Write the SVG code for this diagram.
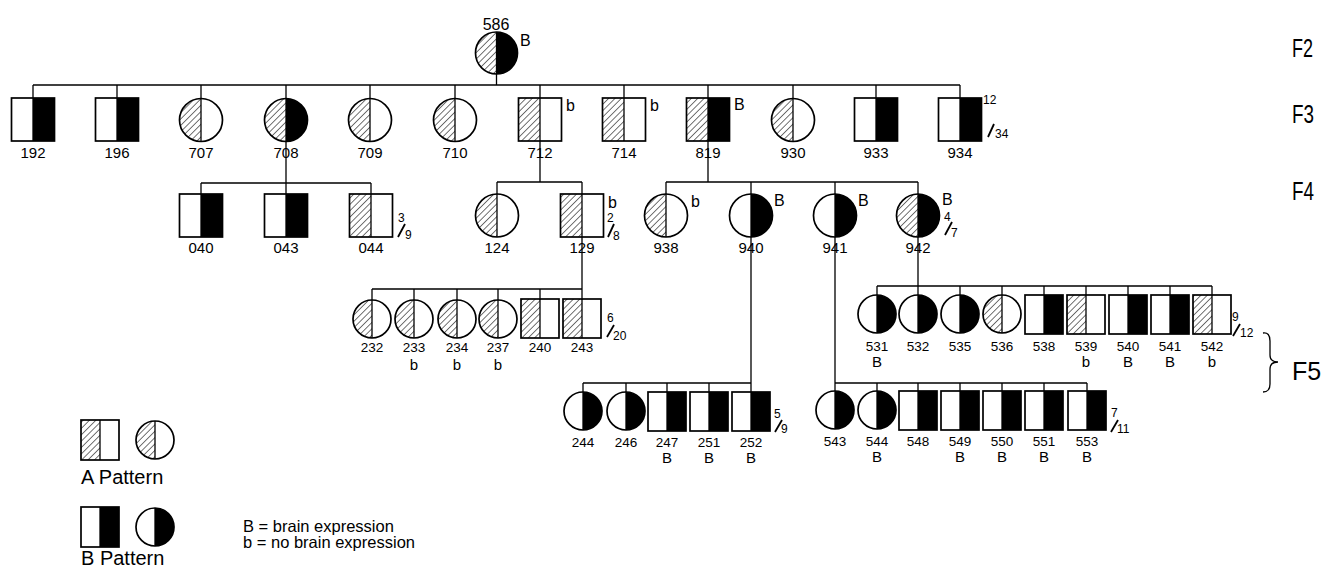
<svg xmlns="http://www.w3.org/2000/svg" width="1326" height="568" viewBox="0 0 1326 568">
<defs>
<pattern id="hatch" patternUnits="userSpaceOnUse" width="4.5" height="4.5" patternTransform="rotate(45)"><line x1="0" y1="0" x2="0" y2="4.5" stroke="#000" stroke-width="1.1"/></pattern>
</defs>
<style>
.o{fill:none;stroke:#000;stroke-width:1.7}
.c{fill:none;stroke:#000;stroke-width:1.3}
.sl{fill:none;stroke:#000;stroke-width:1.8}
.h{fill:url(#hatch)}
.k{fill:#000}
text{font-family:"Liberation Sans",Arial,sans-serif;fill:#000}
.l{font-size:15px;text-anchor:middle}
.s{font-size:13.5px;text-anchor:middle}
.q{font-size:15px;text-anchor:middle}
.m{font-size:16px}
.f{font-size:12px}
.g{font-size:25px}
.lg{font-size:20px}
.lt{font-size:16.5px}
</style>
<rect width="1326" height="568" fill="#fff"/>

<g id="connectors" class="c">
<line x1="496.5" y1="74" x2="496.5" y2="85"/>
<line x1="33" y1="85" x2="960" y2="85"/>
<path d="M33,85V98M117,85V98M201,85V98.5M286,85V98.5M370,85V98.5M455,85V98.5M540,85V98M624,85V98M708,85V98M793,85V98.5M876,85V98M960,85V98"/>
<path d="M286,141.5V183M201,183H371M201,183V194M286,183V194M371,183V194"/>
<path d="M540,141V182M497,182H582M497,182V194M582,182V194"/>
<path d="M708,141V182M666,182H918M666,182V194M751,182V194M835,182V194M918,182V194"/>
<path d="M582,237V289M372,289H582M372,289V300M414,289V300M457,289V300M498,289V300M540,289V300M582,289V300"/>
<path d="M918,237V286M877,286H1212M877,286V295M918,286V295M960,286V295M1002,286V295M1044,286V295M1086,286V295M1128,286V295M1170,286V295M1212,286V295"/>
<path d="M751,237V383M583,383H751M583,383V392M626,383V392M667,383V392M709,383V392M751,383V392"/>
<path d="M835,237V383M835,383H1087M835,383V391M877,383V391M918,383V391M960,383V391M1002,383V391M1044,383V391M1087,383V391"/>
</g>

<!-- F2 -->
<g id="n586">
<path class="h" d="M496.5,32A21,21 0 0 0 496.5,74Z"/><path class="k" d="M496.5,32A21,21 0 0 1 496.5,74Z"/>
<circle class="o" cx="496.5" cy="53" r="21"/><line class="c" x1="496.5" y1="32" x2="496.5" y2="74"/>
<text class="m" x="496" y="30" text-anchor="middle">586</text><text class="m" x="520" y="46">B</text>
</g>

<!-- F3 -->
<g id="n192"><rect class="k" x="33" y="98" width="21.5" height="43"/><rect class="o" x="11.5" y="98" width="43" height="43"/><line class="c" x1="33" y1="98" x2="33" y2="141"/><text class="l" x="33" y="158">192</text></g>
<g id="n196"><rect class="k" x="117" y="98" width="21.5" height="43"/><rect class="o" x="95.5" y="98" width="43" height="43"/><line class="c" x1="117" y1="98" x2="117" y2="141"/><text class="l" x="117" y="158">196</text></g>
<g id="n707"><path class="h" d="M201,98.5A21.5,21.5 0 0 0 201,141.5Z"/><circle class="o" cx="201" cy="120" r="21.5"/><line class="c" x1="201" y1="98.5" x2="201" y2="141.5"/><text class="l" x="201" y="158">707</text></g>
<g id="n708"><path class="h" d="M286,98.5A21.5,21.5 0 0 0 286,141.5Z"/><path class="k" d="M286,98.5A21.5,21.5 0 0 1 286,141.5Z"/><circle class="o" cx="286" cy="120" r="21.5"/><line class="c" x1="286" y1="98.5" x2="286" y2="141.5"/><text class="l" x="286" y="158">708</text></g>
<g id="n709"><path class="h" d="M370,98.5A21.5,21.5 0 0 0 370,141.5Z"/><circle class="o" cx="370" cy="120" r="21.5"/><line class="c" x1="370" y1="98.5" x2="370" y2="141.5"/><text class="l" x="370" y="158">709</text></g>
<g id="n710"><path class="h" d="M455,98.5A21.5,21.5 0 0 0 455,141.5Z"/><circle class="o" cx="455" cy="120" r="21.5"/><line class="c" x1="455" y1="98.5" x2="455" y2="141.5"/><text class="l" x="455" y="158">710</text></g>
<g id="n712"><rect class="h" x="518.5" y="98" width="21.5" height="43"/><rect class="o" x="518.5" y="98" width="43" height="43"/><line class="c" x1="540" y1="98" x2="540" y2="141"/><text class="l" x="540" y="158">712</text><text class="m" x="566" y="111">b</text></g>
<g id="n714"><rect class="h" x="602.5" y="98" width="21.5" height="43"/><rect class="o" x="602.5" y="98" width="43" height="43"/><line class="c" x1="624" y1="98" x2="624" y2="141"/><text class="l" x="624" y="158">714</text><text class="m" x="650" y="111">b</text></g>
<g id="n819"><rect class="h" x="686.5" y="98" width="21.5" height="43"/><rect class="k" x="708" y="98" width="21.5" height="43"/><rect class="o" x="686.5" y="98" width="43" height="43"/><line class="c" x1="708" y1="98" x2="708" y2="141"/><text class="l" x="708" y="158">819</text><text class="m" x="734" y="110">B</text></g>
<g id="n930"><path class="h" d="M793,98.5A21.5,21.5 0 0 0 793,141.5Z"/><circle class="o" cx="793" cy="120" r="21.5"/><line class="c" x1="793" y1="98.5" x2="793" y2="141.5"/><text class="l" x="793" y="158">930</text></g>
<g id="n933"><rect class="k" x="876" y="98" width="21.5" height="43"/><rect class="o" x="854.5" y="98" width="43" height="43"/><line class="c" x1="876" y1="98" x2="876" y2="141"/><text class="l" x="876" y="158">933</text></g>
<g id="n934"><rect class="k" x="960" y="98" width="21.5" height="43"/><rect class="o" x="938.5" y="98" width="43" height="43"/><line class="c" x1="960" y1="98" x2="960" y2="141"/><text class="l" x="960" y="158">934</text><text class="f" x="983" y="104">12</text><line class="sl" x1="988" y1="137" x2="994" y2="124"/><text class="f" x="995" y="138">34</text></g>

<!-- F4 -->
<g id="n040"><rect class="k" x="201" y="194" width="21.5" height="43"/><rect class="o" x="179.5" y="194" width="43" height="43"/><line class="c" x1="201" y1="194" x2="201" y2="237"/><text class="l" x="201" y="253">040</text></g>
<g id="n043"><rect class="k" x="286" y="194" width="21.5" height="43"/><rect class="o" x="264.5" y="194" width="43" height="43"/><line class="c" x1="286" y1="194" x2="286" y2="237"/><text class="l" x="286" y="253">043</text></g>
<g id="n044"><rect class="h" x="349.5" y="194" width="21.5" height="43"/><rect class="o" x="349.5" y="194" width="43" height="43"/><line class="c" x1="371" y1="194" x2="371" y2="237"/><text class="l" x="371" y="253">044</text><text class="f" x="398" y="222">3</text><line class="sl" x1="398" y1="237" x2="405" y2="224"/><text class="f" x="405" y="239">9</text></g>
<g id="n124"><path class="h" d="M497,194A21.5,21.5 0 0 0 497,237Z"/><circle class="o" cx="497" cy="215.5" r="21.5"/><line class="c" x1="497" y1="194" x2="497" y2="237"/><text class="l" x="497" y="253">124</text></g>
<g id="n129"><rect class="h" x="560.5" y="194" width="21.5" height="43"/><rect class="o" x="560.5" y="194" width="43" height="43"/><line class="c" x1="582" y1="194" x2="582" y2="237"/><text class="l" x="582" y="253">129</text><text class="m" x="608" y="208">b</text><text class="f" x="607" y="222">2</text><line class="sl" x1="608" y1="237" x2="614" y2="224"/><text class="f" x="613" y="240">8</text></g>
<g id="n938"><path class="h" d="M666,194A21.5,21.5 0 0 0 666,237Z"/><circle class="o" cx="666" cy="215.5" r="21.5"/><line class="c" x1="666" y1="194" x2="666" y2="237"/><text class="l" x="666" y="253">938</text><text class="m" x="691" y="207">b</text></g>
<g id="n940"><path class="k" d="M751,194A21.5,21.5 0 0 1 751,237Z"/><circle class="o" cx="751" cy="215.5" r="21.5"/><line class="c" x1="751" y1="194" x2="751" y2="237"/><text class="l" x="751" y="253">940</text><text class="m" x="774" y="206">B</text></g>
<g id="n941"><path class="k" d="M835,194A21.5,21.5 0 0 1 835,237Z"/><circle class="o" cx="835" cy="215.5" r="21.5"/><line class="c" x1="835" y1="194" x2="835" y2="237"/><text class="l" x="835" y="253">941</text><text class="m" x="858" y="206">B</text></g>
<g id="n942"><path class="h" d="M918,194A21.5,21.5 0 0 0 918,237Z"/><path class="k" d="M918,194A21.5,21.5 0 0 1 918,237Z"/><circle class="o" cx="918" cy="215.5" r="21.5"/><line class="c" x1="918" y1="194" x2="918" y2="237"/><text class="l" x="918" y="253">942</text><text class="m" x="942" y="205">B</text><text class="f" x="944" y="221">4</text><line class="sl" x1="945" y1="235" x2="952" y2="222"/><text class="f" x="951" y="237">7</text></g>

<!-- F5 (129) -->
<g id="n232"><path class="h" d="M372,300A19,19 0 0 0 372,338Z"/><circle class="o" cx="372" cy="319" r="19"/><line class="c" x1="372" y1="300" x2="372" y2="338"/><text class="s" x="372" y="352">232</text></g>
<g id="n233"><path class="h" d="M414,300A19,19 0 0 0 414,338Z"/><circle class="o" cx="414" cy="319" r="19"/><line class="c" x1="414" y1="300" x2="414" y2="338"/><text class="s" x="414" y="352">233</text><text class="q" x="414" y="370">b</text></g>
<g id="n234"><path class="h" d="M457,300A19,19 0 0 0 457,338Z"/><circle class="o" cx="457" cy="319" r="19"/><line class="c" x1="457" y1="300" x2="457" y2="338"/><text class="s" x="457" y="352">234</text><text class="q" x="457" y="370">b</text></g>
<g id="n237"><path class="h" d="M498,300A19,19 0 0 0 498,338Z"/><circle class="o" cx="498" cy="319" r="19"/><line class="c" x1="498" y1="300" x2="498" y2="338"/><text class="s" x="498" y="352">237</text><text class="q" x="498" y="370">b</text></g>
<g id="n240"><rect class="h" x="521" y="299" width="19" height="39"/><rect class="o" x="521" y="299" width="38" height="39"/><line class="c" x1="540" y1="299" x2="540" y2="338"/><text class="s" x="540" y="352">240</text></g>
<g id="n243"><rect class="h" x="563" y="299" width="19" height="39"/><rect class="o" x="563" y="299" width="38" height="39"/><line class="c" x1="582" y1="299" x2="582" y2="338"/><text class="s" x="582" y="352">243</text><text class="f" x="607" y="322">6</text><line class="sl" x1="607" y1="337" x2="614" y2="325"/><text class="f" x="613" y="340">20</text></g>

<!-- F5 (942) -->
<g id="n531"><path class="k" d="M877,295A19,19 0 0 1 877,333Z"/><circle class="o" cx="877" cy="314" r="19"/><line class="c" x1="877" y1="295" x2="877" y2="333"/><text class="s" x="877" y="351">531</text><text class="q" x="877" y="367">B</text></g>
<g id="n532"><path class="k" d="M918,295A19,19 0 0 1 918,333Z"/><circle class="o" cx="918" cy="314" r="19"/><line class="c" x1="918" y1="295" x2="918" y2="333"/><text class="s" x="918" y="351">532</text></g>
<g id="n535"><path class="k" d="M960,295A19,19 0 0 1 960,333Z"/><circle class="o" cx="960" cy="314" r="19"/><line class="c" x1="960" y1="295" x2="960" y2="333"/><text class="s" x="960" y="351">535</text></g>
<g id="n536"><path class="h" d="M1002,295A19,19 0 0 0 1002,333Z"/><circle class="o" cx="1002" cy="314" r="19"/><line class="c" x1="1002" y1="295" x2="1002" y2="333"/><text class="s" x="1002" y="351">536</text></g>
<g id="n538"><rect class="k" x="1044" y="295" width="19" height="39"/><rect class="o" x="1025" y="295" width="38" height="39"/><line class="c" x1="1044" y1="295" x2="1044" y2="334"/><text class="s" x="1044" y="351">538</text></g>
<g id="n539"><rect class="h" x="1067" y="295" width="19" height="39"/><rect class="o" x="1067" y="295" width="38" height="39"/><line class="c" x1="1086" y1="295" x2="1086" y2="334"/><text class="s" x="1086" y="351">539</text><text class="q" x="1086" y="367">b</text></g>
<g id="n540"><rect class="k" x="1128" y="295" width="19" height="39"/><rect class="o" x="1109" y="295" width="38" height="39"/><line class="c" x1="1128" y1="295" x2="1128" y2="334"/><text class="s" x="1128" y="351">540</text><text class="q" x="1128" y="367">B</text></g>
<g id="n541"><rect class="k" x="1170" y="295" width="19" height="39"/><rect class="o" x="1151" y="295" width="38" height="39"/><line class="c" x1="1170" y1="295" x2="1170" y2="334"/><text class="s" x="1170" y="351">541</text><text class="q" x="1170" y="367">B</text></g>
<g id="n542"><rect class="h" x="1193" y="295" width="19" height="39"/><rect class="o" x="1193" y="295" width="38" height="39"/><line class="c" x1="1212" y1="295" x2="1212" y2="334"/><text class="s" x="1212" y="351">542</text><text class="q" x="1212" y="367">b</text><text class="f" x="1232" y="321">9</text><line class="sl" x1="1233" y1="336" x2="1240" y2="324"/><text class="f" x="1240" y="337">12</text></g>

<!-- F5 (940) -->
<g id="n244"><path class="k" d="M583,392A19,19 0 0 1 583,430Z"/><circle class="o" cx="583" cy="411" r="19"/><line class="c" x1="583" y1="392" x2="583" y2="430"/><text class="s" x="583" y="447">244</text></g>
<g id="n246"><path class="k" d="M626,392A19,19 0 0 1 626,430Z"/><circle class="o" cx="626" cy="411" r="19"/><line class="c" x1="626" y1="392" x2="626" y2="430"/><text class="s" x="626" y="447">246</text></g>
<g id="n247"><rect class="k" x="667" y="392" width="19" height="39"/><rect class="o" x="648" y="392" width="38" height="39"/><line class="c" x1="667" y1="392" x2="667" y2="431"/><text class="s" x="667" y="447">247</text><text class="q" x="667" y="463">B</text></g>
<g id="n251"><rect class="k" x="709" y="392" width="19" height="39"/><rect class="o" x="690" y="392" width="38" height="39"/><line class="c" x1="709" y1="392" x2="709" y2="431"/><text class="s" x="709" y="447">251</text><text class="q" x="709" y="463">B</text></g>
<g id="n252"><rect class="k" x="751" y="392" width="19" height="39"/><rect class="o" x="732" y="392" width="38" height="39"/><line class="c" x1="751" y1="392" x2="751" y2="431"/><text class="s" x="751" y="447">252</text><text class="q" x="751" y="463">B</text><text class="f" x="774" y="418">5</text><line class="sl" x1="775" y1="432" x2="782" y2="420"/><text class="f" x="781" y="433">9</text></g>

<!-- F5 (941) -->
<g id="n543"><path class="k" d="M835,391A19,19 0 0 1 835,429Z"/><circle class="o" cx="835" cy="410" r="19"/><line class="c" x1="835" y1="391" x2="835" y2="429"/><text class="s" x="835" y="446">543</text></g>
<g id="n544"><path class="k" d="M877,391A19,19 0 0 1 877,429Z"/><circle class="o" cx="877" cy="410" r="19"/><line class="c" x1="877" y1="391" x2="877" y2="429"/><text class="s" x="877" y="446">544</text><text class="q" x="877" y="462">B</text></g>
<g id="n548"><rect class="k" x="918" y="391" width="19" height="39"/><rect class="o" x="899" y="391" width="38" height="39"/><line class="c" x1="918" y1="391" x2="918" y2="430"/><text class="s" x="918" y="446">548</text></g>
<g id="n549"><rect class="k" x="960" y="391" width="19" height="39"/><rect class="o" x="941" y="391" width="38" height="39"/><line class="c" x1="960" y1="391" x2="960" y2="430"/><text class="s" x="960" y="446">549</text><text class="q" x="960" y="462">B</text></g>
<g id="n550"><rect class="k" x="1002" y="391" width="19" height="39"/><rect class="o" x="983" y="391" width="38" height="39"/><line class="c" x1="1002" y1="391" x2="1002" y2="430"/><text class="s" x="1002" y="446">550</text><text class="q" x="1002" y="462">B</text></g>
<g id="n551"><rect class="k" x="1044" y="391" width="19" height="39"/><rect class="o" x="1025" y="391" width="38" height="39"/><line class="c" x1="1044" y1="391" x2="1044" y2="430"/><text class="s" x="1044" y="446">551</text><text class="q" x="1044" y="462">B</text></g>
<g id="n553"><rect class="k" x="1087" y="391" width="19" height="39"/><rect class="o" x="1068" y="391" width="38" height="39"/><line class="c" x1="1087" y1="391" x2="1087" y2="430"/><text class="s" x="1087" y="446">553</text><text class="q" x="1087" y="462">B</text><text class="f" x="1111" y="417">7</text><line class="sl" x1="1111" y1="432" x2="1118" y2="420"/><text class="f" x="1117" y="433">11</text></g>

<!-- generation labels -->
<g id="gen">
<text class="g" x="1292" y="57" textLength="21" lengthAdjust="spacingAndGlyphs">F2</text>
<text class="g" x="1292" y="123" textLength="22" lengthAdjust="spacingAndGlyphs">F3</text>
<text class="g" x="1292" y="200" textLength="22" lengthAdjust="spacingAndGlyphs">F4</text>
<path class="c" d="M1263,333Q1270,332 1270,341V355Q1270,362 1278,362Q1270,362 1270,369V384Q1270,392 1263,392"/>
<text class="g" x="1292" y="380">F5</text>
</g>

<!-- legend -->
<g id="legendA">
<rect class="h" x="81" y="420" width="19" height="40"/><rect class="o" x="81" y="420" width="38" height="40"/><line class="c" x1="100" y1="420" x2="100" y2="460"/>
<path class="h" d="M155,421A19,19 0 0 0 155,459Z"/><circle class="o" cx="155" cy="440" r="19"/><line class="c" x1="155" y1="421" x2="155" y2="459"/>
<text class="lg" x="81" y="484">A Pattern</text>
</g>
<g id="legendB">
<rect class="k" x="100" y="507" width="19" height="40"/><rect class="o" x="81" y="507" width="38" height="40"/><line class="c" x1="100" y1="507" x2="100" y2="547"/>
<path class="k" d="M155,508A19,19 0 0 1 155,546Z"/><circle class="o" cx="155" cy="527" r="19"/><line class="c" x1="155" y1="508" x2="155" y2="546"/>
<text class="lg" x="81" y="565">B Pattern</text>
</g>
<g id="legendText">
<text class="lt" x="243" y="532">B = brain expression</text>
<text class="lt" x="243" y="548">b = no brain expression</text>
</g>
</svg>
